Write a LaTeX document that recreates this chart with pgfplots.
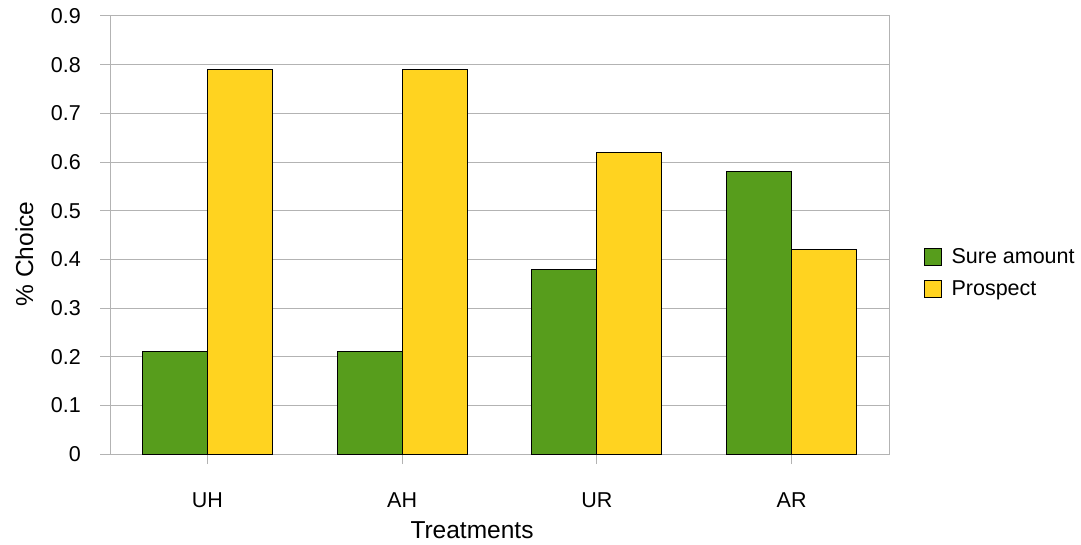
\documentclass[border=0pt]{standalone}
\usepackage{pgfplots}
\pgfplotsset{compat=1.18}
\usepackage{fontspec}
\setmainfont{Liberation Sans}
\definecolor{lgreen}{HTML}{579D1C}
\definecolor{lyellow}{HTML}{FFD320}
\definecolor{lgray}{HTML}{B3B3B3}
\begin{document}
\begin{tikzpicture}
\path[use as bounding box] (0,0) rectangle (1081pt,544pt);
\begin{axis}[
  at={(110pt,90pt)}, anchor=south west,
  scale only axis, width=779pt, height=438pt,
  ybar, bar width=65pt,
  xmin=-0.5, xmax=3.5, ymin=0, ymax=0.9,
  xtick=data, xticklabels={UH,AH,UR,AR},
  ytick={0,0.1,...,0.9},
  yticklabel style={/pgf/number format/fixed, /pgf/number format/precision=1},
  /pgf/number format/assume math mode=true,
  ymajorgrids, major grid style={lgray, line width=1pt},
  axis line style={lgray, line width=1pt},
  tick style={lgray, line width=1pt},
  major tick length=10pt,
  tick align=outside,
  xtick pos=bottom, ytick pos=left,
  ticklabel style={font=\fontsize{21.5}{24}\selectfont},
  yticklabel style={anchor=east, inner sep=0pt, xshift=-19pt},
  xticklabel style={anchor=base, inner sep=0pt, yshift=-43pt},
  xlabel={Treatments},
  ylabel={\% Choice},
  label style={font=\fontsize{24.5}{28}\selectfont},
  xlabel style={at={(axis description cs:0.4647,-0.194)}, anchor=base, inner sep=0pt},
  ylabel style={at={(axis description cs:-0.0988,0.4566)}, anchor=base, inner sep=0pt},
  legend style={at={(axis description cs:1.045,0.413)}, anchor=west, draw=none, fill=none,
    inner sep=0pt, font=\fontsize{21.5}{24}\selectfont, row sep=14pt,
    nodes={inner sep=0pt}},
  legend cell align=left,
  legend image code/.code={\draw[#1] (0pt,-8.5pt) rectangle (17pt,8.5pt); \path (26.5pt,0pt);},
  every axis plot/.append style={draw=black, line width=0.8pt},
]
\addplot[fill=lgreen, bar shift=-32.5pt] coordinates {(0,0.21) (1,0.21) (2,0.38) (3,0.58)};
\addplot[fill=lyellow, bar shift=32.5pt] coordinates {(0,0.79) (1,0.79) (2,0.62) (3,0.42)};
\legend{Sure amount, Prospect}
\end{axis}
\end{tikzpicture}
\end{document}
